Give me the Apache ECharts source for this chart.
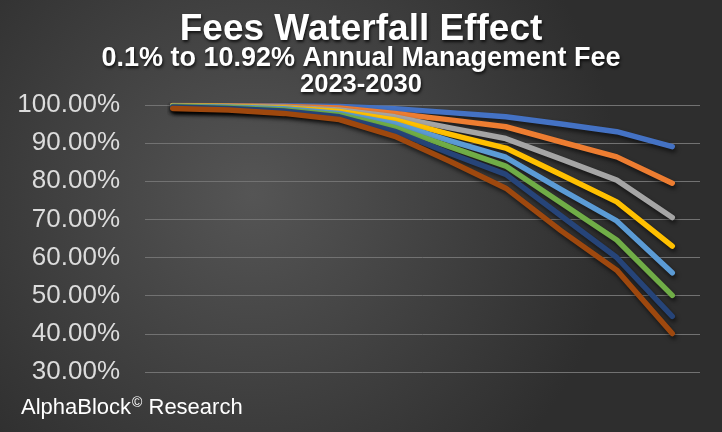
<!DOCTYPE html>
<html>
<head>
<meta charset="utf-8">
<title>Fees Waterfall Effect</title>
<script src="https://cdn.jsdelivr.net/npm/echarts@6/dist/echarts.min.js"></script>
<style>
  html, body { margin: 0; padding: 0; background: #3a3a3a; }
  #chart { width: 722px; height: 432px; }
</style>
</head>
<body>
<div id="chart"></div>
<script>
// periods along the x axis (labels are hidden in the original)
const periods = ['1', '2', '3', '4', '5', '6', '7', '8', '9', '10']

// remaining value in %, one line per fee level
const blueVals = [99.9, 99.9, 99.8, 99.6, 99.0, 98.0, 96.9, 95.0, 93.0, 89.1]
const orangeVals = [99.9, 99.8, 99.6, 99.2, 97.8, 96.1, 94.3, 90.3, 86.4, 79.5]
const grayVals = [99.8, 99.7, 99.4, 98.7, 96.9, 94.0, 91.2, 85.8, 80.3, 70.5]
const yellowVals = [99.8, 99.6, 99.2, 98.3, 96.1, 92.3, 88.7, 81.7, 74.6, 63.0]
const lightBlueVals = [99.7, 99.5, 99.0, 97.8, 95.1, 90.6, 86.3, 77.8, 69.6, 56.0]
const greenVals = [99.6, 99.3, 98.7, 97.4, 94.1, 89.0, 84.0, 74.3, 64.6, 50.1]
const darkBlueVals = [99.5, 99.1, 98.4, 96.9, 93.1, 87.3, 81.8, 70.9, 60.0, 44.6]
const brownVals = [99.1, 98.7, 97.8, 96.2, 91.8, 85.2, 78.2, 67.0, 56.7, 40.1]

const seriesNames = ['Series 1', 'Series 2', 'Series 3', 'Series 4', 'Series 5', 'Series 6', 'Series 7', 'Series 8']
const seriesColors = ['#4472C4', '#ED7D31', '#A5A5A5', '#FFC000', '#5B9BD5', '#70AD47', '#264478', '#9E480E']
const seriesData = [blueVals, orangeVals, grayVals, yellowVals, lightBlueVals, greenVals, darkBlueVals, brownVals]

const font = 'Liberation Sans, Arial, sans-serif'

const chart = echarts.init(document.getElementById('chart'))

const titleShadow = {
  textShadowColor: 'rgba(0,0,0,0.75)',
  textShadowBlur: 3,
  textShadowOffsetX: 1,
  textShadowOffsetY: 2
}

chart.setOption({
  animation: false,
  backgroundColor: {
    type: 'radial',
    x: 0.35,
    y: 0.45,
    r: 0.85,
    colorStops: [
      { offset: 0, color: '#555555' },
      { offset: 1, color: '#2e2e2e' }
    ]
  },
  title: [
    {
      text: 'Fees Waterfall Effect',
      left: 'center',
      top: 6,
      textStyle: Object.assign({ fontFamily: font, fontSize: 37, fontWeight: 'bold', color: '#ffffff' }, titleShadow)
    },
    {
      text: '0.1% to 10.92% Annual Management Fee',
      left: 'center',
      top: 40,
      textStyle: Object.assign({ fontFamily: font, fontSize: 27, fontWeight: 'bold', color: '#ffffff' }, titleShadow)
    },
    {
      text: '2023-2030',
      left: 'center',
      top: 67,
      textStyle: Object.assign({ fontFamily: font, fontSize: 25.5, fontWeight: 'bold', color: '#ffffff' }, titleShadow)
    },
    {
      text: 'AlphaBlock{sup|©} Research',
      left: 16,
      top: 391,
      textStyle: {
        fontFamily: font,
        fontSize: 22,
        fontWeight: 'normal',
        color: '#ffffff',
        rich: {
          sup: { fontFamily: font, fontSize: 14, fontWeight: 'normal', color: '#ffffff', verticalAlign: 'top', padding: [0, 0, 10, 1] }
        }
      }
    }
  ],
  grid: {
    left: 145,
    right: 22,
    top: 105,
    bottom: 60
  },
  xAxis: {
    type: 'category',
    data: periods,
    boundaryGap: true,
    axisLine: { show: false },
    axisTick: { show: false },
    axisLabel: { show: false }
  },
  yAxis: {
    type: 'value',
    min: 30,
    max: 100,
    interval: 10,
    axisLine: { show: false },
    axisTick: { show: false },
    axisLabel: {
      margin: 25,
      fontFamily: font,
      fontSize: 26,
      color: '#dcdcdc',
      formatter: v => v.toFixed(2) + '%'
    },
    splitLine: {
      lineStyle: { color: '#727272', width: 1 }
    }
  },
  series: seriesData.map((vals, i) => ({
    name: seriesNames[i],
    type: 'line',
    data: vals,
    showSymbol: false,
    symbol: 'none',
    lineStyle: {
      color: seriesColors[i],
      width: 5.5,
      cap: 'round',
      join: 'round',
      shadowColor: 'rgba(0,0,0,0.6)',
      shadowBlur: 4,
      shadowOffsetX: 1.5,
      shadowOffsetY: 3
    },
    itemStyle: { color: seriesColors[i] }
  }))
})
</script>
</body>
</html>
